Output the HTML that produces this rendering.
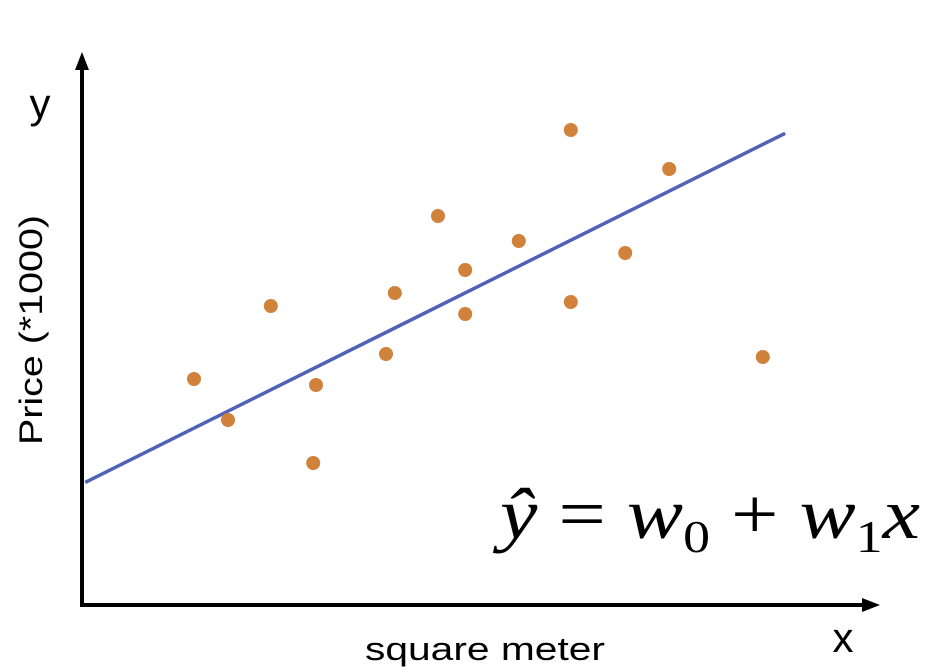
<!DOCTYPE html>
<html><head><meta charset="utf-8"><style>
body{margin:0;background:#fff;}
svg{display:block;}
</style></head><body>
<svg width="940" height="672" viewBox="0 0 940 672" xmlns="http://www.w3.org/2000/svg">
<g id="axes">
<line x1="82" y1="606" x2="82" y2="66" stroke="#000" stroke-width="4"/>
<polygon points="82,52 75,70 89,70" fill="#000"/>
<line x1="80" y1="605" x2="866" y2="605" stroke="#000" stroke-width="4"/>
<polygon points="880,605 862,598 862,612" fill="#000"/>
</g>
<text x="40" y="118" font-family="Liberation Sans, sans-serif" font-size="42" text-anchor="middle">y</text>
<text x="843" y="652" font-family="Liberation Sans, sans-serif" font-size="42" text-anchor="middle">x</text>
<text transform="translate(42,330) rotate(-90)" font-family="Liberation Sans, sans-serif" font-size="32" text-anchor="middle" textLength="230" lengthAdjust="spacingAndGlyphs">Price (*1000)</text>
<text x="485" y="660" font-family="Liberation Sans, sans-serif" font-size="32" text-anchor="middle" textLength="240" lengthAdjust="spacingAndGlyphs">square meter</text>
<g id="plot"></g>
<text x="500" y="538" font-family="Liberation Serif, serif" font-size="72" textLength="420" lengthAdjust="spacingAndGlyphs"><tspan font-style="italic">ŷ</tspan> = <tspan font-style="italic">w</tspan><tspan font-size="46" dy="14">0</tspan><tspan dy="-14"> + </tspan><tspan font-style="italic">w</tspan><tspan font-size="46" dy="14">1</tspan><tspan font-style="italic" dy="-14">x</tspan></text>
</svg>
<script>
const xValues=[14,18.25,23.6,28.9,29.25,38,39.1,44.5,47.9,47.9,54.6,61.1,61.1,67.9,73.4,85.1];
const yValues=[45.2,37,59.8,28.4,44,50.2,62.4,77.8,67,58.2,72.8,95,60.6,70.4,87.2,49.6];
const w0=24.2;
const w1=0.798;
const lineStart=0.4;
const lineEnd=87.9;
function xScale(v){return 82+v*8;}
function yScale(v){return 605-v*5;}
const ns="http://www.w3.org/2000/svg";
const g=document.getElementById('plot');
const ln=document.createElementNS(ns,'line');
ln.setAttribute('x1',xScale(lineStart));ln.setAttribute('y1',yScale(w0+w1*lineStart));
ln.setAttribute('x2',xScale(lineEnd));ln.setAttribute('y2',yScale(w0+w1*lineEnd));
ln.setAttribute('stroke','#4f62b8');ln.setAttribute('stroke-width','3.5');


g.appendChild(ln);
for(let i=0;i<xValues.length;i++){
const c=document.createElementNS(ns,'circle');
c.setAttribute('cx',xScale(xValues[i]));c.setAttribute('cy',yScale(yValues[i]));
c.setAttribute('r','7');c.setAttribute('fill','#d0823a');


g.appendChild(c);
}
</script>
</body></html>
